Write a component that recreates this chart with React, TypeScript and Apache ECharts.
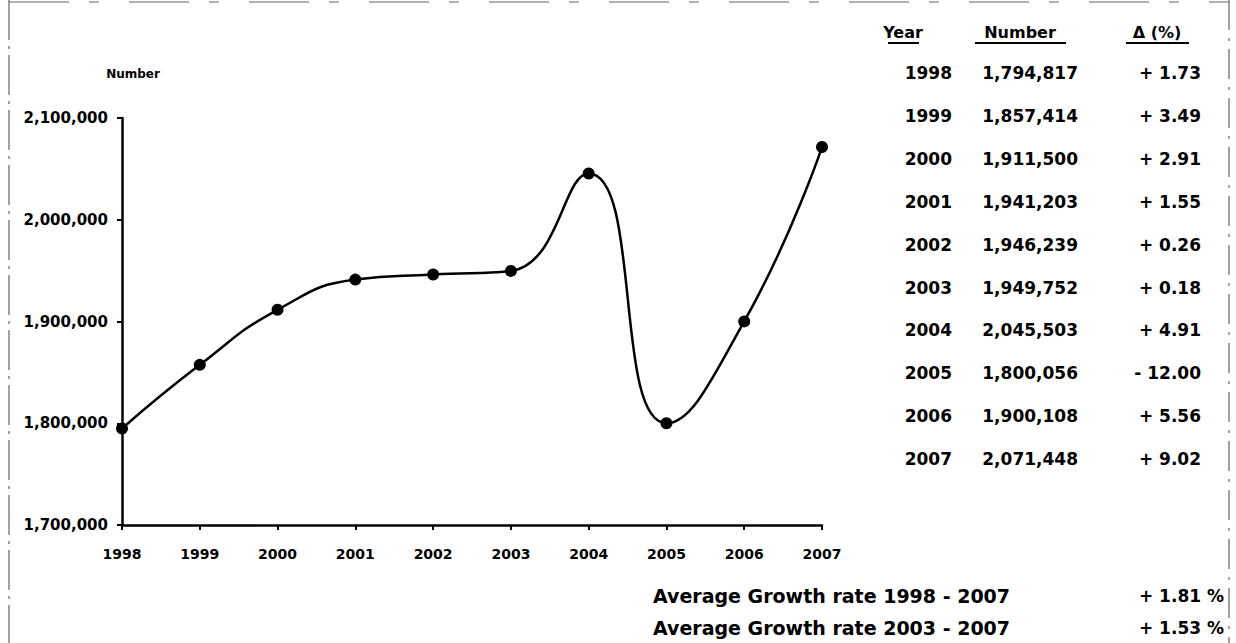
import React, { useEffect, useRef } from "react";
import * as echarts from "echarts";

const years = ["1998", "1999", "2000", "2001", "2002", "2003", "2004", "2005", "2006", "2007"];
const numbers = [1794817, 1857414, 1911500, 1941203, 1946239, 1949752, 2045503, 1800056, 1900108, 2071448];
const changes = [1.73, 3.49, 2.91, 1.55, 0.26, 0.18, 4.91, -12.0, 5.56, 9.02];
const tableHeaders = ["Year", "Number", "Δ (%)"];
const averages = [
  { label: "Average Growth rate 1998 - 2007", value: 1.81 },
  { label: "Average Growth rate 2003 - 2007", value: 1.53 },
];
const yTicks = { min: 1700000, max: 2100000, interval: 100000 };

const FONT = "'DejaVu Sans', 'Liberation Sans', Arial, sans-serif";

const fmtNum = (v: number) => v.toLocaleString("en-US");
const fmtChange = (v: number) => (v < 0 ? "- " : "+ ") + Math.abs(v).toFixed(2);

export default function App() {
  const ref = useRef<HTMLDivElement>(null);

  useEffect(() => {
    document.body.style.margin = "0";
    if (!ref.current) return;
    const chart = echarts.init(ref.current, null, { renderer: "svg" });

    const tableText = (text: string, x: number, y: number, align: string, size = 17) => ({
      type: "text",
      x,
      y,
      style: {
        text,
        fill: "#000",
        font: `bold ${size}px ${FONT}`,
        align,
        verticalAlign: "middle",
      },
    });

    const graphics: any[] = [];
    const headerPos = [
      { x: 903, x0: 888, x1: 919 },
      { x: 1020, x0: 975, x1: 1066 },
      { x: 1157, x0: 1126, x1: 1189 },
    ];
    tableHeaders.forEach((h, i) => {
      graphics.push(tableText(h, headerPos[i].x, 32, "center", 16));
      graphics.push({
        type: "line",
        shape: { x1: headerPos[i].x0, y1: 43, x2: headerPos[i].x1, y2: 43 },
        style: { stroke: "#000", lineWidth: 2 },
      });
    });
    const rowY0 = 73;
    const rowStep = 42.9;
    years.forEach((yr, i) => {
      const y = rowY0 + i * rowStep;
      graphics.push(tableText(yr, 952, y, "right"));
      graphics.push(tableText(fmtNum(numbers[i]), 1078, y, "right"));
      graphics.push(tableText(fmtChange(changes[i]), 1201, y, "right"));
    });
    averages.forEach((a, i) => {
      const y = 596 + i * 32;
      graphics.push(tableText(a.label, 653, y, "left", 19));
      graphics.push(tableText(fmtChange(a.value) + " %", 1224, y, "right", 17));
    });
    graphics.push({
      type: "line",
      shape: { x1: 9, y1: 0, x2: 9, y2: 643 },
      style: { stroke: "#444", lineWidth: 1, lineDash: [40, 6, 3, 6] },
    });
    graphics.push({
      type: "line",
      shape: { x1: 1229, y1: 0, x2: 1229, y2: 643 },
      style: { stroke: "#444", lineWidth: 1, lineDash: [30, 8, 3, 8] },
    });
    graphics.push({
      type: "line",
      shape: { x1: 9, y1: 2, x2: 1229, y2: 2 },
      style: { stroke: "#666", lineWidth: 1, lineDash: [60, 20, 10, 30] },
    });

    chart.setOption({
      animation: false,
      backgroundColor: "#fff",
      grid: { left: 122, right: 414, top: 118, bottom: 118, containLabel: false },
      xAxis: {
        type: "category",
        data: years,
        boundaryGap: false,
        axisLine: { lineStyle: { color: "#000", width: 2.5 } },
        axisTick: { show: true, length: 5, lineStyle: { color: "#000", width: 2 } },
        axisLabel: { color: "#000", fontFamily: FONT, fontWeight: "bold", fontSize: 14, margin: 22 },
        splitLine: { show: false },
      },
      yAxis: {
        type: "value",
        min: yTicks.min,
        max: yTicks.max,
        interval: yTicks.interval,
        name: "Number",
        nameLocation: "end",
        nameGap: 38,
        nameTextStyle: {
          color: "#000",
          fontFamily: FONT,
          fontWeight: "bold",
          fontSize: 12,
          padding: [0, 0, 0, 22],
        },
        axisLine: { show: true, lineStyle: { color: "#000", width: 2.5 } },
        axisTick: { show: true, length: 5, lineStyle: { color: "#000", width: 2 } },
        axisLabel: {
          color: "#000",
          fontFamily: FONT,
          fontWeight: "bold",
          fontSize: 15,
          margin: 14,
          formatter: (v: number) => fmtNum(v),
        },
        splitLine: { show: false },
      },
      series: [
        {
          type: "line",
          data: numbers,
          smooth: 0.5,
          symbol: "circle",
          symbolSize: 12,
          itemStyle: { color: "#000" },
          lineStyle: { color: "#000", width: 2.5 },
        },
      ],
      graphic: graphics,
    });

    return () => chart.dispose();
  }, []);

  return <div ref={ref} style={{ width: 1236, height: 643 }} />;
}
